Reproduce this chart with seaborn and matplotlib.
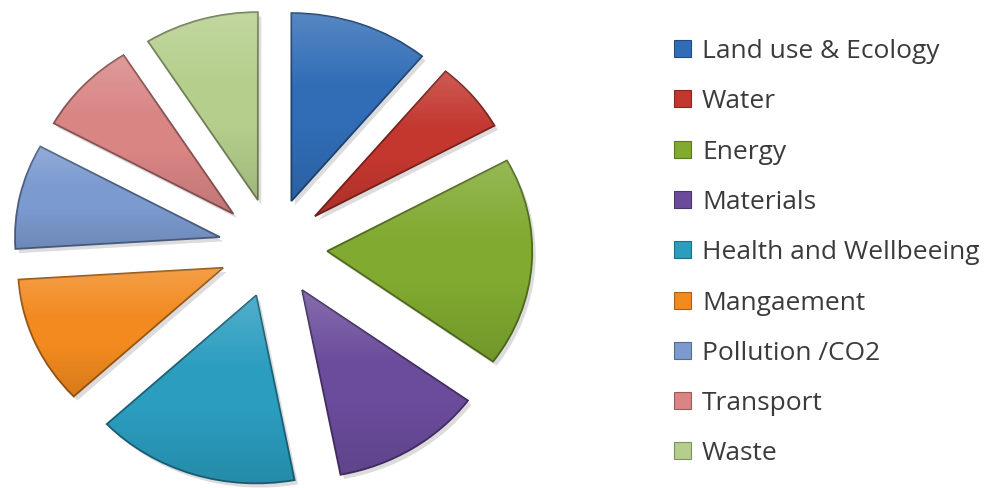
import numpy as np
import matplotlib
matplotlib.use("Agg")
import matplotlib.pyplot as plt
import matplotlib.patheffects as pe
from matplotlib.colors import to_rgb
from matplotlib.patches import Rectangle
import seaborn as sns

# Share of assessment weighting by category
categories = ["Land use & Ecology", "Water", "Energy", "Materials",
              "Health and Wellbeeing", "Mangaement", "Pollution /CO2",
              "Transport", "Waste"]
shares = [11, 6, 18, 12, 16, 11, 9, 8, 9]
palette = ["#306db6", "#c3372f", "#80aa30", "#6b4c9c", "#2b9dbf",
           "#f28a1f", "#7b9acf", "#d88584", "#b5ce8b"]

sns.set_theme(style="white")
plt.rcParams["font.family"] = ["Open Sans", "DejaVu Sans"]

W, H = 998, 488
fig = plt.figure(figsize=(W / 100, H / 100), dpi=100)

# pie axes: centre at (273, 240) px from bottom-left, unit = 205 px wide, 188 px tall
cx, cy, ux, uy = 273, 240, 205, 188
xl, yl = 1.36, 1.35
ax = fig.add_axes([(cx - xl * ux) / W, (cy - yl * uy) / H,
                   2 * xl * ux / W, 2 * yl * uy / H])


def shade(c, f):
    r = np.array(to_rgb(c))
    return tuple(r * f) if f < 1 else tuple(r + (1 - r) * (f - 1))


wedges, _ = ax.pie(shares, colors=palette, startangle=90, counterclock=False,
                   explode=[0.265] * len(shares),
                   wedgeprops=dict(linewidth=1.3))

for w, c in zip(wedges, palette):
    w.set_edgecolor(shade(c, 0.62))
    w.set_path_effects([pe.SimplePatchShadow(offset=(2.5, -3), shadow_rgbFace="0.55", alpha=0.3),
                        pe.Normal()])
    # soft vertical sheen, lighter on top, slightly darker below
    ext = w.get_path().get_extents(w.get_patch_transform())
    n = 64
    t = np.linspace(0, 1, n)[:, None]
    grad = np.zeros((n, 1, 4))
    top = np.clip(0.18 - 0.45 * t, 0, None)
    bot = np.clip(0.28 * (t - 0.6), 0, None)
    grad[..., :3] = np.where(top[..., None] > 0, 1.0, 0.0)
    grad[..., 3] = top + bot
    im = ax.imshow(grad, extent=[ext.x0, ext.x1, ext.y0, ext.y1], origin="upper",
                   interpolation="bilinear", aspect="auto", zorder=w.get_zorder() + 0.1)
    im.set_clip_path(w)

ax.set_aspect("auto")
ax.set_xlim(-xl, xl)
ax.set_ylim(-yl, yl)
ax.axis("off")

# legend column
row0, step = 48.5, 50.3
for i, (lab, c) in enumerate(zip(categories, palette)):
    yc = H - (row0 + i * step)
    fig.patches.append(Rectangle((674 / W, (yc - 8.5) / H), 17 / W, 17 / H,
                                 transform=fig.transFigure, facecolor=c,
                                 edgecolor=shade(c, 0.7), linewidth=0.8))
    fig.text(702 / W, yc / H, lab, ha="left", va="center_baseline",
             fontsize=19, color="#3b3b3b")

fig.savefig("out.png", dpi=100, facecolor="white")
